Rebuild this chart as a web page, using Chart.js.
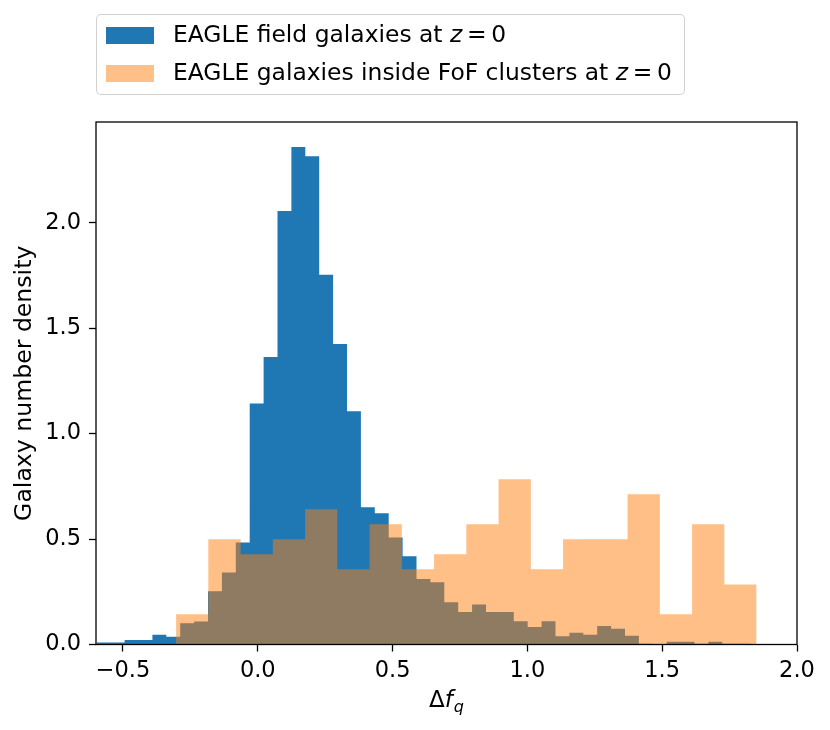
<!DOCTYPE html>
<html>
<head>
<meta charset="utf-8">
<script src="https://cdn.jsdelivr.net/npm/chart.js@4"></script>
<style>
  html, body { margin: 0; padding: 0; background: #fff; }
  #wrap { position: relative; width: 830px; height: 730px; font-family: "DejaVu Sans", sans-serif; }
  #chart { position: absolute; left: 0; top: 0; }
  #legend {
    position: absolute; left: 96px; top: 14px; width: 587px; height: 79px;
    border: 1.3px solid rgba(204,204,204,0.9); border-radius: 5px; background: #fff;
    box-sizing: content-box;
  }
  .item { position: absolute; left: 0; height: 30px; display: flex; align-items: center; }
  .patch { position: absolute; left: 9px; width: 48px; height: 17px; }
  .txt { position: absolute; left: 76px; white-space: nowrap; font-size: 23.4px; color: #000; line-height: 1; }
</style>
</head>
<body>
<div id="wrap">
  <canvas id="chart" width="830" height="730"></canvas>
  <div id="legend"></div>
</div>
<script>
// ---- data ----
const seriesLabels = ['EAGLE field galaxies at z = 0', 'EAGLE galaxies inside FoF clusters at z = 0'];

// field galaxies: 47 equal-width bins from blueBinStart to blueBinEnd
const blueBinStart = -0.597;
const blueBinEnd = 1.826;
const blueValues = [
  0.010, 0.010, 0.021, 0.021, 0.046, 0.037, 0.101, 0.109, 0.253, 0.341, 0.484,
  1.143, 1.364, 2.056, 2.360, 2.316, 1.753, 1.425, 1.106, 0.651, 0.623,
  0.508, 0.418, 0.311, 0.295, 0.200, 0.154, 0.190, 0.154, 0.154, 0.110,
  0.083, 0.110, 0.039, 0.056, 0.046, 0.088, 0.075, 0.042, 0.004, 0.000,
  0.013, 0.013, 0.004, 0.013, 0.004, 0.004
];

// cluster galaxies: 18 equal-width bins from orangeBinStart to orangeBinEnd
const orangeBinStart = -0.303;
const orangeBinEnd = 1.850;
const orangeValues = [
  0.143, 0.499, 0.428, 0.499, 0.642, 0.357, 0.570, 0.357, 0.428,
  0.570, 0.784, 0.357, 0.499, 0.499, 0.713, 0.143, 0.570, 0.285
];

const xTicks = [-0.5, 0.0, 0.5, 1.0, 1.5, 2.0];
const yTicks = [0.0, 0.5, 1.0, 1.5, 2.0];
const xRange = [-0.6, 2.0];
const yRange = [0, 2.478];

const seriesColors = ['#1f77b4', 'rgba(255,127,14,0.5)'];

// ---- build step outlines (histogram) ----
function histPoints(start, end, values) {
  const n = values.length;
  const w = (end - start) / n;
  const pts = values.map((v, i) => ({ x: start + i * w, y: v }));
  pts.push({ x: end, y: values[n - 1] });
  return pts;
}

const FONT = '"DejaVu Sans", sans-serif';
const fmt = v => (v < 0 ? '\u2212' : '') + Math.abs(v).toFixed(1);

const framePlugin = {
  id: 'frame',
  afterDatasetsDraw(chart) {
    const { ctx, chartArea: a } = chart;
    ctx.save();
    ctx.strokeStyle = '#000';
    ctx.lineWidth = 1.3;
    ctx.strokeRect(a.left, a.top, a.right - a.left, a.bottom - a.top);
    ctx.restore();
  }
};

const xTitlePlugin = {
  id: 'xTitle',
  afterDraw(chart) {
    const { ctx, chartArea: a } = chart;
    const cx = (a.left + a.right) / 2;
    const base = a.bottom + 62;
    const fMain = '23px ' + FONT, fIt = 'italic 23px ' + FONT, fSub = 'italic 16px ' + FONT;
    ctx.save();
    ctx.fillStyle = '#000';
    ctx.textBaseline = 'alphabetic';
    ctx.textAlign = 'left';
    ctx.font = fMain; const w1 = ctx.measureText('\u0394').width;
    ctx.font = fIt; const w2 = ctx.measureText('f').width;
    ctx.font = fSub; const w3 = ctx.measureText('q').width;
    let x = cx - (w1 + w2 + 1 + w3) / 2;
    ctx.font = fMain; ctx.fillText('\u0394', x, base); x += w1;
    ctx.font = fIt; ctx.fillText('f', x, base); x += w2 + 1;
    ctx.font = fSub; ctx.fillText('q', x, base + 5);
    ctx.restore();
  }
};

const chart = new Chart(document.getElementById('chart'), {
  type: 'line',
  data: {
    datasets: [
      {
        label: seriesLabels[0],
        data: histPoints(blueBinStart, blueBinEnd, blueValues),
        stepped: 'before',
        fill: 'origin',
        backgroundColor: seriesColors[0],
        borderColor: 'rgba(0,0,0,0)',
        borderWidth: 0,
        pointRadius: 0,
        order: 1
      },
      {
        label: seriesLabels[1],
        data: histPoints(orangeBinStart, orangeBinEnd, orangeValues),
        stepped: 'before',
        fill: 'origin',
        backgroundColor: seriesColors[1],
        borderColor: 'rgba(0,0,0,0)',
        borderWidth: 0,
        pointRadius: 0,
        order: 0
      }
    ]
  },
  options: {
    responsive: false,
    animation: false,
    devicePixelRatio: 1,
    layout: { padding: { left: 0, right: 33, top: 122, bottom: 0 } },
    plugins: {
      legend: { display: false },
      tooltip: { enabled: false }
    },
    scales: {
      x: {
        type: 'linear',
        min: xRange[0], max: xRange[1],
        afterFit: s => { s.height = 85.5; },
        afterBuildTicks: s => { s.ticks = xTicks.map(v => ({ value: v })); },
        border: { display: false },
        grid: { display: true, drawOnChartArea: false, drawTicks: true, tickLength: 7, tickWidth: 1.3, tickColor: '#000' },
        ticks: { color: '#000', font: { family: FONT, size: 22.5 }, padding: 6, maxRotation: 0, callback: v => fmt(v) }
      },
      y: {
        type: 'linear',
        min: yRange[0], max: yRange[1],
        afterFit: s => { s.width = 96; },
        afterBuildTicks: s => { s.ticks = yTicks.map(v => ({ value: v })); },
        border: { display: false },
        grid: { display: true, drawOnChartArea: false, drawTicks: true, tickLength: 7, tickWidth: 1.3, tickColor: '#000' },
        ticks: { color: '#000', font: { family: FONT, size: 22.5 }, padding: 8, callback: v => fmt(v) },
        title: { display: true, text: 'Galaxy number density', color: '#000', font: { family: FONT, size: 23.6 }, padding: { top: 11, bottom: 0 } }
      }
    }
  },
  plugins: [framePlugin, xTitlePlugin]
});

// ---- HTML legend (keeps italic z as in the reference) ----
const legend = document.getElementById('legend');
const legendColors = ['#1f77b4', '#ffbf86'];
seriesLabels.forEach((lab, i) => {
  const item = document.createElement('div');
  item.className = 'item';
  item.style.top = (i === 0 ? 5 : 43) + 'px';
  const patch = document.createElement('div');
  patch.className = 'patch';
  patch.style.background = legendColors[i];
  const txt = document.createElement('div');
  txt.className = 'txt';
  const m = lab.match(/^(.*)z = 0$/);
  txt.appendChild(document.createTextNode(m[1]));
  const it = document.createElement('i');
  it.textContent = 'z';
  txt.appendChild(it);
  txt.appendChild(document.createTextNode('\u2009=\u20090'));
  item.appendChild(patch);
  item.appendChild(txt);
  legend.appendChild(item);
});
</script>
</body>
</html>
